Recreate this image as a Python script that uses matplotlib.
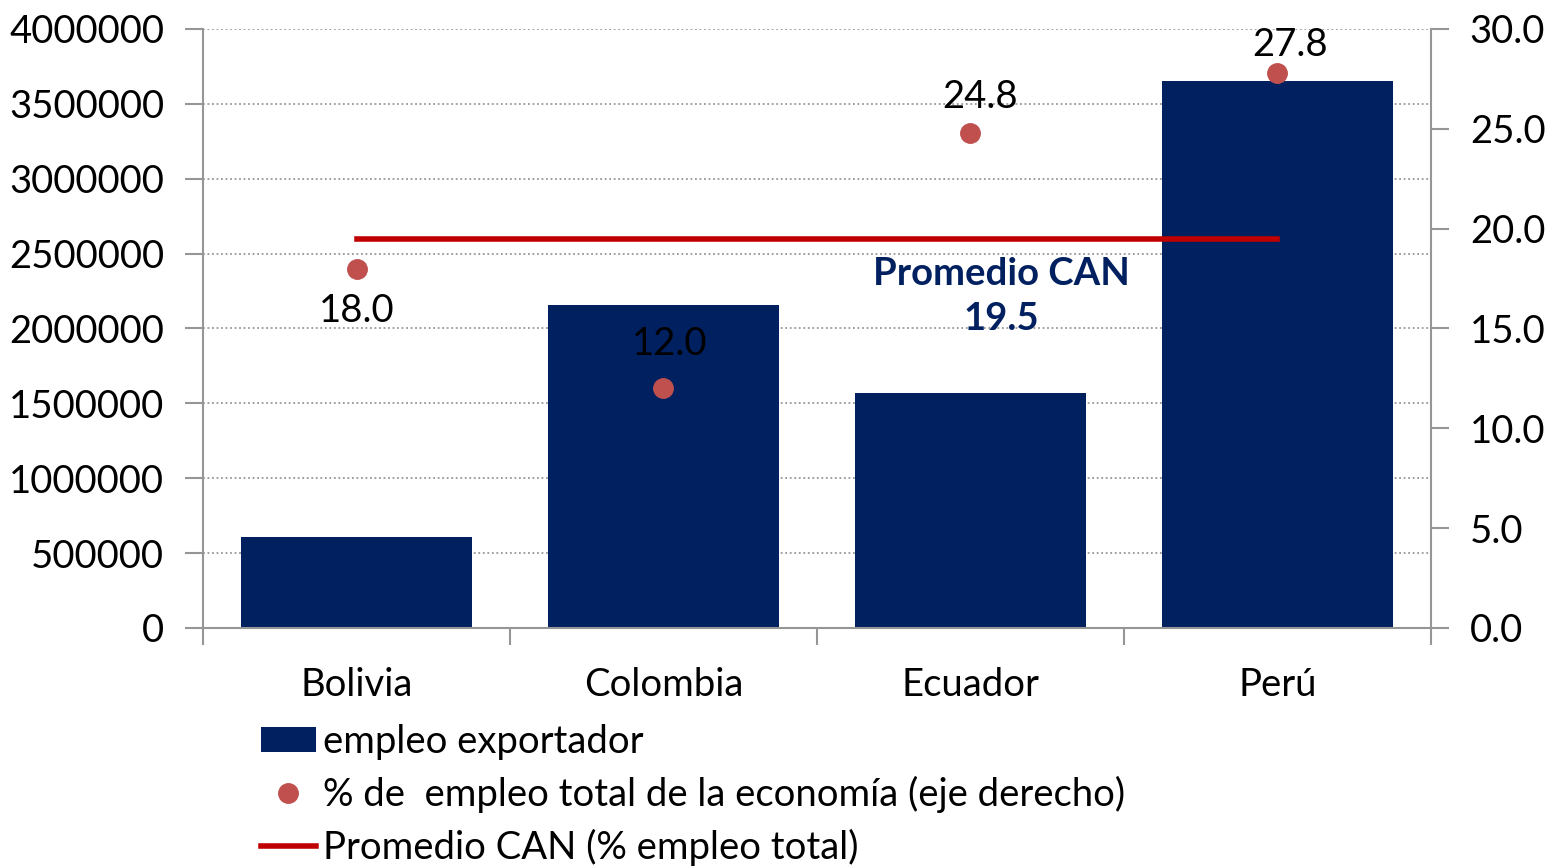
import numpy as np
import matplotlib.pyplot as plt
from matplotlib.patches import Patch
from matplotlib.lines import Line2D

plt.rcParams['font.family'] = ['Lato', 'DejaVu Sans']

#-- data --
paises = ['Bolivia', 'Colombia', 'Ecuador', 'Perú']
empleo_exp = [610000, 2160000, 1570000, 3650000]
pct_empleo = [18.0, 12.0, 24.8, 27.8]
prom_can = 19.5
left_ticks = [0, 500000, 1000000, 1500000, 2000000, 2500000, 3000000, 3500000, 4000000]
right_ticks = [0.0, 5.0, 10.0, 15.0, 20.0, 25.0, 30.0]

#-- colours --
c_bar = '#002060'
c_dot = '#C0504D'
c_line = '#C00000'
c_ax = '#969696'

fs = 27.5

fig = plt.figure(figsize=(15.51, 8.67), dpi=100)
ax1 = fig.add_axes([0.1309, 0.2757, 0.7917, 0.6909])
ax2 = ax1.twinx()

x = np.arange(len(paises))
ax1.bar(x, empleo_exp, width=0.75, color=c_bar, zorder=2)
ax1.set_xlim(-0.5, len(paises) - 0.5)
ax1.set_ylim(0, 4000000)
ax1.set_yticks(left_ticks)
ax1.set_yticklabels([str(v) for v in left_ticks])
ax1.yaxis.grid(True, linestyle=(0, (1, 1.5)), color=c_ax, linewidth=1.3, zorder=0)
ax1.set_axisbelow(True)

ax1.set_xticks(np.arange(len(paises) + 1) - 0.5)
ax1.set_xticklabels([])
ax1.set_xticks(x, minor=True)
ax1.set_xticklabels(paises, minor=True)
ax1.tick_params(axis='x', which='minor', length=0, pad=28, labelsize=fs)
ax1.tick_params(axis='x', which='major', length=12, width=1.5, color=c_ax, direction='out')
ax1.tick_params(axis='y', length=13, width=1.5, color=c_ax, labelsize=fs, pad=15)

for sp in ['top', 'right']:
    ax1.spines[sp].set_visible(False)
for sp in ['left', 'bottom']:
    ax1.spines[sp].set_color(c_ax)
    ax1.spines[sp].set_linewidth(1.5)

ax2.set_ylim(0, 30)
ax2.set_yticks(right_ticks)
ax2.set_yticklabels(['%.1f' % v for v in right_ticks])
ax2.tick_params(axis='y', length=13, width=1.5, color=c_ax, labelsize=fs, pad=15)
for sp in ['top', 'left', 'bottom']:
    ax2.spines[sp].set_visible(False)
ax2.spines['right'].set_color(c_ax)
ax2.spines['right'].set_linewidth(1.5)

ax2.plot(x, pct_empleo, 'o', color=c_dot, markersize=14, zorder=4)
ax2.plot([x[0], x[-1]], [prom_can, prom_can], color=c_line, linewidth=4, zorder=3)

#-- data labels --
offs = [(0, -2.15), (0.02, 2.2), (0.03, 1.8), (0.04, 1.4)]
for xi, yi, (dx, dy) in zip(x, pct_empleo, offs):
    ax2.text(xi + dx, yi + dy, '%.1f' % yi, ha='center', va='center', fontsize=fs)
ax2.text(2.1, 16.6, 'Promedio CAN\n19.5', ha='center', va='center', fontsize=fs,
         fontweight='bold', color=c_bar, linespacing=1.4)

#-- legend --
handles = [Patch(facecolor=c_bar, edgecolor='none'),
           Line2D([], [], marker='o', color=c_dot, linestyle='none', markersize=14),
           Line2D([], [], color=c_line, linewidth=4)]
labels = ['empleo exportador', '% de  empleo total de la economía (eje derecho)',
          'Promedio CAN (% empleo total)']
fig.legend(handles, labels, loc='upper left', bbox_to_anchor=(0.168, 0.165), frameon=False,
           fontsize=fs, handlelength=1.45, handleheight=0.65, handletextpad=0.18,
           labelspacing=0.42, borderpad=0, borderaxespad=0)

fig.savefig('out.png', dpi=100)
